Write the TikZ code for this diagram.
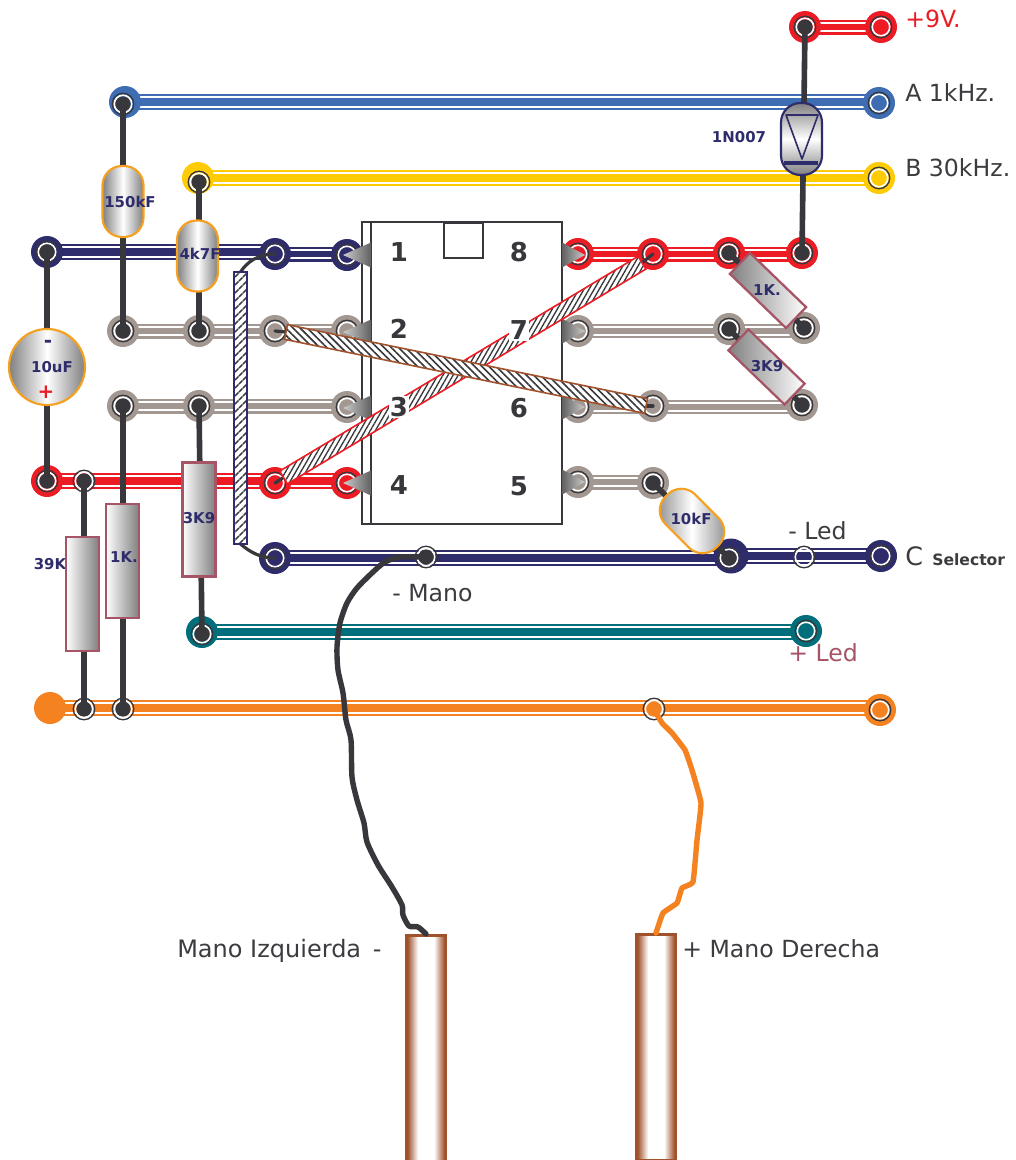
\documentclass[tikz,border=0pt]{standalone}
\usepackage{fontspec}
\setmainfont{DejaVu Sans}
\usetikzlibrary{calc,patterns.meta}
\pgfdeclarelayer{bg}
\pgfsetlayers{bg,main}
\definecolor{cdark}{HTML}{37373C}
\definecolor{cred}{HTML}{ED1C24}
\definecolor{cblue}{HTML}{3F6DB3}
\definecolor{cyel}{HTML}{FFCB05}
\definecolor{cnavy}{HTML}{2E2C6A}
\definecolor{cgray}{HTML}{A39791}
\definecolor{cteal}{HTML}{006F7B}
\definecolor{corange}{HTML}{F58220}
\definecolor{cres}{HTML}{A65566}
\definecolor{ccap}{HTML}{F5A01F}
\definecolor{crod}{HTML}{A0522D}
\definecolor{ctext}{HTML}{3C3C40}
\pgfdeclarehorizontalshading{capshade}{100bp}{color(0bp)=(gray); color(25bp)=(gray); color(50bp)=(white); color(75bp)=(gray); color(100bp)=(gray)}
\pgfdeclarehorizontalshading{resshade}{100bp}{color(0bp)=(white); color(25bp)=(white); color(75bp)=(gray); color(100bp)=(gray)}
\pgfdeclarehorizontalshading{rodshade}{100bp}{color(0bp)=(crod); color(27bp)=(crod); color(40bp)=(white); color(60bp)=(white); color(73bp)=(crod); color(100bp)=(crod)}
\def\pu{0.75pt}
\tikzset{
  disc/.style={circle,inner sep=0pt,outer sep=0pt,minimum size=32*\pu},
  ringd/.style={circle,draw=cdark,line width=1pt,inner sep=0pt,outer sep=0pt,minimum size=21.5*\pu},
  ringw/.style={circle,draw=white,line width=1.2pt,inner sep=0pt,minimum size=17.5*\pu},
  core/.style={circle,inner sep=0pt,minimum size=15.5*\pu},
  wire/.style={draw=cdark,line width=5.6*\pu,line cap=round},
  thinw/.style={draw=cdark,line width=3.2*\pu,line cap=round},
  handw/.style={line width=5.4*\pu,line cap=round,line join=round},
  lab/.style={font=\bfseries\fontsize{11.2pt}{12pt}\selectfont,text=cnavy,inner sep=0pt},
  pinnum/.style={font=\bfseries\fontsize{19.5pt}{22pt}\selectfont,text=cdark,inner sep=1pt},
  txt/.style={font=\fontsize{17.7pt}{20pt}\selectfont,text=ctext,anchor=base west,inner sep=0pt},
  capbox/.style={draw=ccap,line width=1.6pt,shading=capshade,rounded corners=14.6pt,minimum width=41*\pu,minimum height=71*\pu,inner sep=0pt},
  resbox/.style={draw=cres,line width=1.7pt,shading=resshade,minimum width=33*\pu,minimum height=114*\pu,inner sep=0pt},
  diagres/.style={draw=cres,line width=1.7pt,shading=resshade,shading angle=180,minimum width=78*\pu,minimum height=29*\pu,inner sep=0pt},
  rodbox/.style={draw=crod,line width=2pt,shading=rodshade,minimum width=40*\pu,anchor=north,inner sep=0pt},
  pinl/.style={left color=gray!40,right color=black!62,draw=none},
  pinr/.style={left color=black!62,right color=gray!40,draw=none},
}
\newcommand\jack[5]{% name,x,y,colour,core colour
  \node[disc,fill=#4] at (#2,#3) {};
  \node[core,fill=#5] at (#2,#3) {};
  \node[ringw] at (#2,#3) {};
  \node[ringd] (#1) at (#2,#3) {};}
\newcommand\ringonly[4]{% name,x,y,core colour
  \node[core,fill=#4] at (#2,#3) {};
  \node[ringw] at (#2,#3) {};
  \node[ringd] (#1) at (#2,#3) {};}
\newcommand\bus[4][16]{% [width] colour,a,b: level, at the height of a
  \begin{pgfonlayer}{bg}
  \draw[#2,line width=#1*\pu] (#3.center) -- (#3.center -| #4.center);
  \draw[white,line width=#1*0.72*\pu] (#3.center) -- (#3.center -| #4.center);
  \draw[#2,line width=#1*0.44*\pu] (#3.center) -- (#3.center -| #4.center);
  \end{pgfonlayer}}
\newcommand\band[5]{% a,b,half width,edge colour,hatching
  \draw[draw=#4,line width=1.2pt,preaction={fill=white},pattern={Lines[#5]},pattern color=cdark]
    ($(#1)!#3!90:(#2)$) -- ($(#1)!#3!-90:(#2)$) -- ($(#2)!#3!90:(#1)$) -- ($(#2)!#3!-90:(#1)$) -- cycle;}
\begin{document}
\begin{tikzpicture}[x=0.75pt,y=-0.75pt]
\useasboundingbox (0,0) rectangle (1016,1160);
\begin{pgfonlayer}{bg}\fill[white] (0,0) rectangle (1016,1160);\end{pgfonlayer}
% jacks
\jack{na}{805}{27}{cred}{cdark}
\jack{nb}{881}{27}{cred}{cred}
\node[disc,fill=cblue] (aout) at (125,102) {};
\ringonly{aa}{123}{104}{cdark}
\jack{ab}{879}{103}{cblue}{cblue}
\node[disc,fill=cyel] (bout) at (198,178) {};
\ringonly{ba}{199}{182}{cdark}
\jack{bb}{879}{178}{cyel}{cyel}
\jack{ca}{47}{252}{cnavy}{cdark}
\jack{cb}{275}{254}{cnavy}{cnavy}
\jack{cc}{347}{255}{cnavy}{cnavy}
\jack{ra}{578}{254}{cred}{cred}
\jack{rb}{653}{254}{cred}{cred}
\jack{rc}{729}{253}{cred}{cdark}
\jack{rd}{802}{253}{cred}{cdark}
\jack{ga}{123}{331}{cgray}{cdark}
\jack{gb}{199}{331}{cgray}{cdark}
\jack{gc}{275}{331}{cgray}{cgray}
\jack{gd}{347}{331}{cgray}{cgray}
\jack{ge}{578}{331}{cgray}{cgray}
\jack{gf}{729}{329}{cgray}{cdark}
\jack{gg}{804}{328}{cgray}{cdark}
\jack{ha}{123}{406}{cgray}{cdark}
\jack{hb}{199}{406}{cgray}{cdark}
\jack{hc}{347}{407}{cgray}{cgray}
\jack{hd}{578}{407}{cgray}{cgray}
\jack{he}{653}{406}{cgray}{cgray}
\jack{hf}{802}{405}{cgray}{cdark}
\jack{ea}{47}{481}{cred}{cdark}
\ringonly{eb}{84}{481}{cdark}
\jack{ec}{275}{483}{cred}{cred}
\jack{ed}{347}{483}{cred}{cred}
\jack{ka}{578}{482}{cgray}{cgray}
\jack{kb}{653}{483}{cgray}{cdark}
\jack{sa}{275}{558}{cnavy}{cnavy}
\ringonly{sb}{426}{557}{cdark}
\node[disc,fill=cnavy,minimum size=35*\pu] (sout) at (731,556) {};
\ringonly{sc}{729}{558}{cdark}
\node[ringw] at (804,557) {};
\node[ringd] (sd) at (804,557) {};
\jack{se}{881}{556}{cnavy}{cnavy}
\node[disc,fill=cteal] (tout) at (202,632) {};
\ringonly{ta}{202}{634}{cdark}
\jack{tb}{806}{631}{cteal}{cteal}
\node[disc,fill=corange] (oa) at (50,708) {};
\ringonly{ob}{84}{709}{cdark}
\ringonly{oc}{123}{709}{cdark}
\ringonly{od}{654}{709}{corange}
\jack{oe}{880}{710}{corange}{corange}
% buses
\bus[15]{cred}{na}{nb}
\bus{cblue}{aout}{ab}
\bus{cyel}{bout}{bb}
\bus{cnavy}{ca}{cb}
\bus[15]{cnavy}{cb}{cc}
\bus[15]{cred}{ra}{rd}
\bus[15]{cgray}{ga}{gd}
\bus[14]{cgray}{ge}{gg}
\bus[15]{cgray}{ha}{hc}
\bus[14]{cgray}{hd}{hf}
\bus{cred}{ea}{ed}
\bus[15]{cgray}{ka}{kb}
\bus{cnavy}{sa}{sout}
\bus{cnavy}{sout}{se}
\bus{cteal}{tout}{tb}
\bus{corange}{oa}{oe}
% wires
\draw[wire] (aa.center) -- (ga.center);
\draw[wire] (ba.center) -- (gb.center);
\draw[wire] (ca.center) -- (ea.center);
\draw[wire] (eb.center) -- (ob.center);
\draw[wire] (ha.center) -- (oc.center);
\draw[wire] (hb.center) -- (ta.center);
\draw[wire] (na.center) -- (rd.center);
\draw[wire] (rc.center) -- (gg.center);
\draw[wire] (gf.center) -- (hf.center);
\draw[wire] (kb.center) -- (sc.center);
% rods and hand wires
\node[rodbox,minimum height=226*\pu] (rodl) at (426,934) {};
\node[rodbox,minimum height=226*\pu] (rodr) at (656,933) {};
\draw[handw,draw=cdark] plot[smooth,tension=0.45] coordinates {(sb.center) (400,557) (385,562) (373,572) (357,588) (347,603) (340,623) (337,647) (338,670) (343,693) (346,720) (351,740) (352,777) (357,800) (364,823) (367,842) (378,865) (392,887) (402,905) (403,915) (409,926) (418,927) (rodl.north)};
\draw[handw,draw=corange] plot[smooth,tension=0.2] coordinates {(od.center) (662,723) (672,733) (685,750) (692,770) (701,803) (697,840) (693,882) (682,888) (677,903) (663,913) (rodr.north)};
% IC
\node[draw=cdark,line width=1.7pt,fill=white,minimum width=200*\pu,minimum height=302*\pu,inner sep=0pt] (ic) at (462,373) {};
\draw[cdark,line width=1.7pt] (371,222) -- (371,524);
\node[draw=cdark,line width=1.7pt,fill=white,minimum width=39*\pu,minimum height=35*\pu,inner sep=0pt] (notch) at (463.5,240.5) {};
\foreach \yy in {255,332,408,483}{\path[pinl] (371,\yy-12.5) -- (371,\yy+12.5) -- (343,\yy) -- cycle;}
\foreach \yy in {255,331,407,482}{\path[pinr] (562,\yy-12.5) -- (562,\yy+12.5) -- (585,\yy) -- cycle;}
% hatched bands
\coordinate (rba) at (283.5,477.5);
\coordinate (rbb) at (642,262.7);
\coordinate (bra) at (286,332);
\coordinate (brb) at (646,406);
\coordinate (vta) at (240.5,272);
\coordinate (vtb) at (240.5,544);
\draw[thinw] (ec.center) -- (rba);
\draw[thinw] (rb.center) -- (rbb);
\draw[thinw] (gc.center) -- (bra);
\draw[thinw] (he.center) -- (brb);
\draw[thinw] (vta) .. controls (247,262) and (258,254) .. (cb.center);
\draw[thinw] (vtb) .. controls (250,552) and (260,558) .. (sa.center);
\band{rba}{rbb}{5.6pt}{cred}{angle=60,distance=3.3pt,line width=1pt}
\node[pinnum] (p1) at (399,252) {1};
\node[pinnum] (p2) at (399,329) {2};
\node[pinnum,fill=white] (p3) at (399,407) {3};
\node[pinnum] (p4) at (399,485) {4};
\node[pinnum] (p8) at (519,252) {8};
\node[pinnum,fill=white] (p7) at (519,330) {7};
\node[pinnum] (p6) at (519,408) {6};
\node[pinnum] (p5) at (519,486) {5};
\band{bra}{brb}{5.6pt}{crod}{angle=-45,distance=3.8pt,line width=1.2pt}
\band{vta}{vtb}{4.8pt}{cnavy}{angle=45,distance=4pt,line width=1.2pt}
% components
\node[lab] (l39) at (50,564) {39K};
\node[resbox] (r39) at (82.5,594) {};
\node[resbox] (r1k) at (122.5,561) {};
\node[lab] at (124,557) {1K.};
\node[resbox] (r3k) at (199,519.5) {};
\node[lab] at (199,518) {3K9};
\node[capbox] (c150) at (123,201.5) {};
\node[lab] at (130,201.5) {150kF};
\node[capbox] (c47) at (197.5,256) {};
\node[lab] at (200,254) {4k7F};
\node[circle,draw=ccap,line width=1.6pt,shading=capshade,minimum size=76*\pu,inner sep=0pt] (c10) at (47,367) {};
\node[lab] at (52,367) {10uF};
\node[inner sep=0pt,text=cnavy,font=\bfseries\fontsize{15pt}{16pt}\selectfont] at (48,344) {-};
\node[inner sep=0pt,text=cred,font=\bfseries\fontsize{15pt}{16pt}\selectfont] at (46,392) {+};
\node[capbox,rotate=-45,minimum height=42*\pu,minimum width=72*\pu] (c10k) at (692,521) {};
\node[lab] at (691,519) {10kF};
\node[diagres,rotate=-44] (r1d) at (768,290.5) {};
\node[lab] at (767,290) {1K.};
\node[diagres,rotate=-44] (r3d) at (766.5,367) {};
\node[lab] at (767,366) {3K9};
\node[draw=cnavy,line width=1.6pt,shading=capshade,shading angle=90,rounded corners=14.6pt,minimum width=41*\pu,minimum height=72*\pu,inner sep=0pt] (dio) at (801.5,139) {};
\draw[cnavy,line width=1.2pt,line join=round] (786,115) -- (818,115) -- (802,159) -- cycle;
\draw[cnavy,line width=2.6pt] (784,163) -- (818,163);
\node[lab] at (739,137) {1N007};
% texts
\node[txt,text=cred] at (905,27) {+9V.};
\node[txt] at (905,101.7) {A 1kHz.};
\node[txt] at (905,176.7) {B 30kHz.};
\node[txt,font=\fontsize{19pt}{22pt}\selectfont] (cc1) at (905,565) {C};
\node[txt,font=\bfseries\fontsize{11.7pt}{13pt}\selectfont] at (932,565) {Selector};
\node[txt] at (788,539) {- Led};
\node[txt,text=cres] at (788,661.7) {+ Led};
\node[txt] at (392,601.7) {- Mano};
\node[txt,font=\fontsize{18pt}{20pt}\selectfont] at (177,957) {Mano Izquierda\hspace{3pt} -};
\node[txt] at (682,957) {+ Mano Derecha};
\end{tikzpicture}
\end{document}
